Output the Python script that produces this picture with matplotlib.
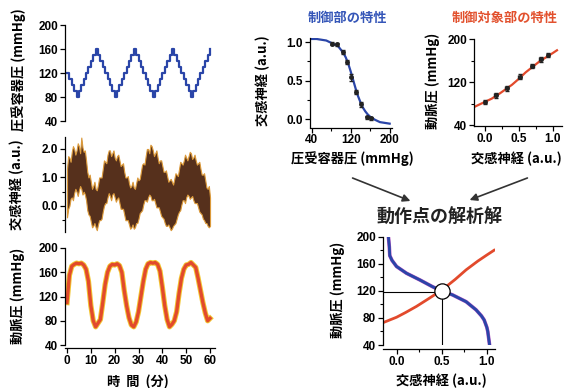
import numpy as np
import matplotlib
matplotlib.use("Agg")
import matplotlib.pyplot as plt
import matplotlib.patheffects as pe
from matplotlib.patches import FancyArrowPatch
from matplotlib.ticker import MultipleLocator, FixedLocator

W = 564
H = 388

plt.rcParams['font.family'] = ['Liberation Sans', 'Noto Sans CJK JP', 'DejaVu Sans']
plt.rcParams['axes.linewidth'] = 0.9

JP = ['Noto Sans CJK JP', 'DejaVu Sans']

# ---- left column: time series (minutes) ----
minutes = list(range(61))

baro_pressure = [120, 110, 100, 90, 80,
                 90, 100, 110, 120, 130, 140, 150, 160,
                 150, 140, 130, 120, 110, 100, 90, 80,
                 90, 100, 110, 120, 130, 140, 150, 160,
                 150, 140, 130, 120, 110, 100, 90, 80,
                 90, 100, 110, 120, 130, 140, 150, 160,
                 150, 140, 130, 120, 110, 100, 90, 80,
                 90, 100, 110, 120, 130, 140, 150, 160]

# nerve band envelope, read on the minute and on the half minute
nerve_hi_min = [1.3, 1.7, 1.9, 2.0, 1.95, 2.1, 2.4, 1.9, 1.6, 1.0,
                0.85, 0.7, 0.6, 0.75, 1.0, 1.3, 1.55, 1.8, 1.95, 1.85,
                1.7, 1.75, 1.6, 1.45, 1.2, 1.0, 0.8, 0.7, 0.65, 0.8,
                0.9, 1.2, 1.5, 1.75, 2.0, 2.15, 1.95, 1.85, 1.7, 1.6,
                1.4, 1.2, 1.05, 0.9, 0.85, 0.95, 1.1, 1.3, 1.5, 1.6,
                1.7, 1.75, 1.85, 1.7, 1.6, 1.5, 1.3, 1.1, 0.9, 0.6, 0.3]
nerve_hi_half = [1.75, 1.55, 2.1, 1.8, 2.2, 1.85, 2.05, 1.95, 1.2, 1.1,
                 0.6, 0.85, 0.55, 1.0, 1.0, 1.6, 1.5, 1.95, 1.75, 1.95,
                 1.6, 1.8, 1.4, 1.5, 1.0, 1.05, 0.65, 0.85, 0.6, 1.0,
                 0.95, 1.45, 1.45, 2.0, 1.85, 2.1, 1.75, 1.95, 1.5, 1.6,
                 1.2, 1.25, 0.85, 0.95, 0.75, 1.15, 1.05, 1.55, 1.45, 1.8,
                 1.6, 1.9, 1.65, 1.8, 1.45, 1.55, 1.1, 1.15, 0.65, 0.7]
nerve_lo_min = [-0.4, 0.0, 0.3, 0.45, 0.5, 0.55, 0.6, 0.5, 0.2, -0.3,
                -0.55, -0.7, -0.75, -0.65, -0.5, -0.2, 0.1, 0.3, 0.35, 0.4,
                0.3, 0.25, 0.1, -0.1, -0.3, -0.5, -0.65, -0.75, -0.8, -0.6,
                -0.45, -0.2, 0.05, 0.2, 0.3, 0.35, 0.2, 0.1, -0.05, -0.2,
                -0.4, -0.6, -0.7, -0.75, -0.8, -0.65, -0.45, -0.2, 0.05, 0.2,
                0.3, 0.35, 0.3, 0.2, 0.1, -0.05, -0.25, -0.45, -0.6, -0.7, -0.7]
nerve_lo_half = [-0.1, 0.25, 0.2, 0.6, 0.35, 0.7, 0.4, 0.4, -0.15, -0.35,
                 -0.75, -0.6, -0.85, -0.5, -0.45, 0.0, 0.1, 0.45, 0.2, 0.45,
                 0.15, 0.3, -0.1, -0.1, -0.5, -0.5, -0.8, -0.65, -0.75, -0.6,
                 -0.25, -0.15, 0.2, 0.15, 0.4, 0.2, 0.25, -0.05, -0.05, -0.35,
                 -0.45, -0.7, -0.65, -0.85, -0.7, -0.6, -0.3, -0.15, 0.2, 0.1,
                 0.4, 0.25, 0.35, 0.1, 0.1, -0.2, -0.3, -0.5, -0.6, -0.75]

arterial_pressure = [110, 155, 170, 173, 175, 174, 175, 172, 165, 145,
                     105, 80, 70, 76, 82, 110, 140, 160, 170, 173,
                     172, 174, 171, 160, 130, 105, 85, 73, 70, 78,
                     95, 120, 145, 165, 174, 176, 175, 176, 173, 162,
                     135, 105, 82, 70, 74, 80, 95, 125, 150, 165,
                     172, 173, 176, 172, 168, 150, 130, 110, 93, 80, 84]

# ---- control (baroreflex) characteristic ----
ctrl_curve_x = [40, 50, 60, 70, 80, 90, 95, 100, 105, 110, 115, 120, 125, 130,
                135, 140, 145, 150, 155, 160, 170, 180, 190, 200]
ctrl_curve_y = [1.04, 1.04, 1.03, 1.02, 0.99, 0.96, 0.94, 0.90, 0.86, 0.80, 0.72,
                0.62, 0.51, 0.40, 0.30, 0.22, 0.15, 0.10, 0.06, 0.03, -0.01,
                -0.04, -0.05, -0.06]
ctrl_pts_x = [81, 92, 104, 112, 120, 131, 141, 153, 162]
ctrl_pts_y = [0.98, 0.97, 0.87, 0.74, 0.54, 0.35, 0.19, 0.02, 0.01]
ctrl_err = [0.02, 0.02, 0.03, 0.03, 0.04, 0.03, 0.03, 0.02, 0.02]

# ---- plant (peripheral) characteristic ----
plant_curve_x = [-0.15, 0.0, 0.1, 0.2, 0.3, 0.4, 0.5, 0.6, 0.7, 0.8, 0.9, 1.0, 1.06]
plant_curve_y = [74, 83, 89, 97, 106, 115, 126, 138, 148, 158, 166, 174, 179]
plant_pts_x = [0.0, 0.16, 0.32, 0.51, 0.70, 0.82, 0.93]
plant_pts_y = [83, 95, 108, 130, 150, 162, 170]
plant_err = [4, 4, 4, 4, 4, 4, 4]

# ---- operating point ----
op_blue_x = [-0.09, -0.08, -0.075, -0.05, 0.0, 0.11, 0.26, 0.40, 0.5, 0.62,
             0.77, 0.88, 0.94, 0.97, 1.0, 1.01, 1.02, 1.03]
op_blue_y = [200, 185, 172, 165, 156, 146, 136, 126, 120, 114,
             104, 92, 83, 77, 66, 60, 50, 40]
op_red_x = [-0.15, 0.0, 0.1, 0.22, 0.35, 0.5, 0.65, 0.77, 0.9, 1.0, 1.08]
op_red_y = [73, 81, 88, 97, 108, 121, 137, 151, 164, 173, 180]
op_point = (0.5, 120)

BLUE = '#2a45a8'
RED = '#e24a2c'

# interleave the minute and half-minute readings of the nerve band
nerve_t = []
nerve_hi = []
nerve_lo = []
for i in range(60):
    nerve_t += [i, i + 0.5]
    nerve_hi += [nerve_hi_min[i], nerve_hi_half[i]]
    nerve_lo += [nerve_lo_min[i], nerve_lo_half[i]]
nerve_t.append(60)
nerve_hi.append(nerve_hi_min[60])
nerve_lo.append(nerve_lo_min[60])

fig = plt.figure(figsize=(W / 100, H / 100), dpi=100)


def add_ax(left, top, right, bottom):
    return fig.add_axes([left / W, 1 - bottom / H, (right - left) / W, (bottom - top) / H])


def style(ax, bottom=True):
    for s in ['top', 'right']:
        ax.spines[s].set_visible(False)
    if not bottom:
        ax.spines['bottom'].set_visible(False)
        ax.tick_params(axis='x', which='both', bottom=False, labelbottom=False)
    ax.tick_params(which='major', direction='out', length=3.5, width=0.9, labelsize=8.5, pad=1.5)
    ax.tick_params(which='minor', direction='out', length=2.2, width=0.8)
    for lab in ax.get_xticklabels() + ax.get_yticklabels():
        lab.set_fontweight('bold')


def ftext(x, y, s, **kw):
    kw.setdefault('family', JP)
    kw.setdefault('fontweight', 'bold')
    kw.setdefault('fontsize', 9.5)
    fig.text(x / W, 1 - y / H, s, ha='center', va='center', **kw)


# panel 1: baroreceptor pressure
ax1 = add_ax(65.1, 25, 214.8, 121)
ax1.plot(minutes, baro_pressure, drawstyle='steps-post', color=BLUE, lw=1.6)
ax1.set_xlim(-0.8, 62)
ax1.set_ylim(40, 200)
ax1.set_yticks([40, 80, 120, 160, 200])
style(ax1, bottom=False)

# panel 2: sympathetic nerve activity
ax2 = add_ax(65.1, 137, 214.8, 231.6)
ax2.fill_between(nerve_t, nerve_lo, nerve_hi, facecolor='#56301c', edgecolor='#dc9a3a', lw=0.8)
ax2.set_xlim(-0.8, 62)
ax2.set_ylim(-0.9, 2.42)
ax2.set_yticks([0, 1, 2])
ax2.set_yticklabels(['0.0', '1.0', '2.0'])
ax2.yaxis.set_minor_locator(FixedLocator([-0.5, 0.5, 1.5]))
style(ax2, bottom=False)

# panel 3: arterial pressure
ax3 = add_ax(65.1, 248, 214.8, 345)
ax3.plot(minutes, arterial_pressure, color=RED, lw=2.4,
         path_effects=[pe.Stroke(linewidth=3.8, foreground='#f2c531'), pe.Normal()])
ax3.set_xlim(-0.8, 62)
ax3.set_ylim(40, 200)
ax3.set_yticks([40, 80, 120, 160, 200])
ax3.set_xticks([0, 10, 20, 30, 40, 50, 60])
ax3.spines['bottom'].set_position(('outward', 2))
style(ax3)

ftext(19, 70, '圧受容器圧 (mmHg)', rotation=90)
ftext(17, 185, '交感神経 (a.u.)', rotation=90)
ftext(17.5, 296, '動脈圧 (mmHg)', rotation=90)
ftext(138, 382, '時  間  (分)')

# control characteristic
axc = add_ax(309.7, 38.2, 391.6, 127.5)
axc.plot(ctrl_curve_x, ctrl_curve_y, color=BLUE, lw=1.6)
axc.errorbar(ctrl_pts_x, ctrl_pts_y, yerr=ctrl_err, fmt='o', ms=2.5, color='#222222',
             elinewidth=0.7, capsize=1.2, zorder=3)
axc.set_xlim(36, 204)
axc.set_ylim(-0.11, 1.05)
axc.set_xticks([40, 120, 200])
axc.xaxis.set_minor_locator(FixedLocator([80, 160]))
axc.set_yticks([0, 0.5, 1.0])
axc.set_yticklabels(['0.0', '0.5', '1.0'])
axc.yaxis.set_minor_locator(FixedLocator([0.25, 0.75]))
style(axc)
ftext(347, 18, '制御部の特性', color='#3556b8')
ftext(262.5, 81, '交感神経 (a.u.)', rotation=90)
ftext(352, 159, '圧受容器圧 (mmHg)')

# plant characteristic
axp = add_ax(474, 39, 562.4, 126.1)
axp.plot(plant_curve_x, plant_curve_y, color=RED, lw=1.6)
axp.errorbar(plant_pts_x, plant_pts_y, yerr=plant_err, xerr=0.02, fmt='o', ms=2.5,
             color='#222222', elinewidth=0.7, capsize=1.2, zorder=3)
axp.set_xlim(-0.16, 1.14)
axp.set_ylim(38, 200)
axp.set_xticks([0, 0.5, 1.0])
axp.set_xticklabels(['0.0', '0.5', '1.0'])
axp.xaxis.set_minor_locator(FixedLocator([0.25, 0.75]))
axp.set_yticks([40, 120, 200])
axp.yaxis.set_minor_locator(FixedLocator([80, 160]))
style(axp)
ftext(505, 18, '制御対象部の特性', color='#e2512e')
ftext(432.5, 81, '動脈圧 (mmHg)', rotation=90)
ftext(516, 159, '交感神経 (a.u.)')

# operating point
axo = add_ax(383, 236.7, 495, 345)
axo.plot(op_red_x, op_red_y, color=RED, lw=2.0)
axo.plot(op_blue_x, op_blue_y, color=BLUE, lw=2.0,
         path_effects=[pe.Stroke(linewidth=2.6, foreground='#b050c0'), pe.Normal()])
axo.plot([-0.15, op_point[0]], [op_point[1] - 1, op_point[1] - 1], color='black', lw=0.8)
axo.plot([op_point[0], op_point[0]], [40, op_point[1]], color='black', lw=0.8)
axo.plot([op_point[0]], [op_point[1]], 'o', ms=11, mfc='white', mec='black', mew=0.9, zorder=5)
axo.set_xlim(-0.15, 1.09)
axo.set_ylim(40, 200)
axo.set_xticks([0, 0.5, 1.0])
axo.set_xticklabels(['0.0', '0.5', '1.0'])
axo.xaxis.set_minor_locator(FixedLocator([0.25, 0.75]))
axo.set_yticks([40, 80, 120, 160, 200])
axo.yaxis.set_minor_locator(MultipleLocator(20))
axo.spines['bottom'].set_position(('outward', 3))
style(axo)
ftext(439, 217, '動作点の解析解', fontsize=13, color='#222222')
ftext(337.5, 290, '動脈圧 (mmHg)', rotation=90)
ftext(441.7, 381, '交感神経 (a.u.)')

# arrows from the two characteristics down to the solution
for (x0, y0), (x1, y1) in [((350, 177), (413, 202)), ((530, 177), (467, 201))]:
    arr = FancyArrowPatch((x0 / W, 1 - y0 / H), (x1 / W, 1 - y1 / H), transform=fig.transFigure,
                          arrowstyle='-|>', mutation_scale=11, lw=1.2, color='#333333')
    fig.add_artist(arr)

fig.savefig('out.png', dpi=100)
